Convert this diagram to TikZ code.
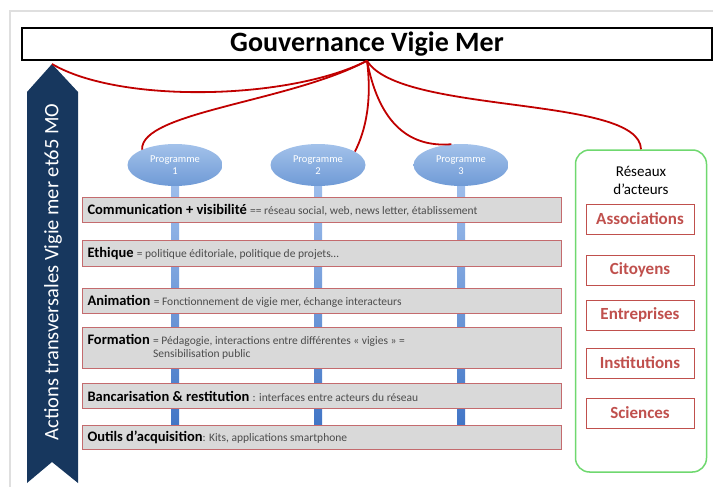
\documentclass[tikz,border=0pt]{standalone}
\usepackage{fontspec}
\setmainfont{Carlito}
\usetikzlibrary{shapes.geometric}
\definecolor{rougelien}{HTML}{C00000}
\definecolor{marine}{HTML}{17375E}
\definecolor{bleuhaut}{HTML}{A3C2EA}
\definecolor{bleubas}{HTML}{6F9AD6}
\definecolor{barrehaut}{HTML}{9DBDEB}
\definecolor{barrebas}{HTML}{3D72C4}
\definecolor{gris}{HTML}{D9D9D9}
\definecolor{bordrose}{HTML}{C46B6E}
\definecolor{vert}{HTML}{6FD86F}
\definecolor{rougeacteur}{HTML}{C0504D}
\newcommand{\desc}[1]{{\fontsize{11.5}{12.5}\selectfont\color{black!70}#1}}
\newcommand{\programme}[3] % name, x in px, number
{
	% ellipse
	\node[prog] (#1) at (#2,165) {Programme\\#3};
	% vertical bar under it
	\shade[top color=barrehaut, bottom color=barrebas] (#2-4,186) rectangle (#2+4,437);
}
\newcommand{\rangee}[4] % name, top y in px, height in px, text
{
	\node[rangee, minimum height=#3pt] (#1) at (82,#2) {#4};
}
\newcommand{\acteur}[3] % name, y in px, text
{
	\node[acteur] (#1) at (640,#2) {#3};
}
\begin{document}
\begin{tikzpicture}[x=1pt, y=-1pt,
	prog/.style={ellipse, top color=bleuhaut, bottom color=bleubas, minimum width=95pt, minimum height=42pt, inner sep=0pt, text=white, align=center, font=\fontsize{10.5}{11.5}\selectfont},
	rangee/.style={draw=bordrose, line width=1pt, fill=gris, anchor=north west, text width=469pt, inner xsep=5pt, align=flush left, font=\fontsize{14.5}{16}\selectfont},
	acteur/.style={draw=rougeacteur, line width=1pt, fill=white, minimum width=108pt, minimum height=30pt, inner xsep=2pt, text=rougeacteur, font=\bfseries\fontsize{17}{19}\selectfont},
	lien/.style={draw=rougelien, line width=1.8pt}]
	\useasboundingbox (0,0) rectangle (713,487);
	% slide frame
	\draw[gray!25, line width=2pt] (10,487) -- (10,11) -- (713,11);
	
	% title
	\node[draw, line width=1.5pt, fill=white, minimum width=690pt, minimum height=32pt, font=\bfseries\fontsize{28}{30}\selectfont] (gouv) at (367,44) {Gouvernance Vigie Mer};
	\coordinate (centre) at (gouv.south);
	
	% transversal arrow
	\fill[marine] (27,92) -- (52,64) -- (78,92) -- (78,483) -- (52,462) -- (27,483) -- cycle;
	\coordinate (pointe) at (52,64);
	\node[rotate=90, text=white, font=\fontsize{20.5}{22}\selectfont] (actions) at (53,272) {Actions transversales Vigie mer et65 MO};
	
	% programmes
	\programme{p1}{175}{1};
	\programme{p2}{318}{2};
	\programme{p3}{461}{3};
	
	% transversal actions
	\rangee{comm}{197}{25}{\textbf{Communication + visibilité} \desc{== réseau social, web, news letter, établissement}};
	\rangee{ethique}{240}{26}{\textbf{Ethique} \desc{= politique éditoriale, politique de projets…}};
	\rangee{anim}{288}{25}{\textbf{Animation} \desc{= Fonctionnement de vigie mer, échange interacteurs}};
	\rangee{form}{327}{41}{\textbf{Formation} \desc{\begin{tabular}[t]{@{}l@{}}= Pédagogie, interactions entre différentes « vigies » =\\ Sensibilisation public\end{tabular}}};
	\rangee{banc}{383}{25}{\textbf{Bancarisation \& restitution} \desc{: interfaces entre acteurs du réseau}};
	\rangee{outils}{425}{24}{\textbf{Outils d'acquisition}\desc{: Kits, applications smartphone}};
	
	% networks
	\node[draw=vert, line width=1.5pt, rounded corners=14pt, fill=white, minimum width=131pt, minimum height=322pt] (reseaux) at (641,311) {};
	\node[align=center, font=\fontsize{15}{18}\selectfont] (titrereseaux) at (641,180) {Réseaux\\d'acteurs};
	\acteur{assoc}{219}{Associations};
	\acteur{citoyens}{270}{Citoyens};
	\acteur{entreprises}{315}{Entreprises};
	\acteur{institutions}{363}{Institutions};
	\acteur{sciences}{413}{Sciences};
	
	% red links
	\draw[lien] (pointe) .. controls (120,104) and (290,100) .. (centre);
	\draw[lien] (p1.155) .. controls (140,112) and (290,102) .. (centre);
	\draw[lien] (centre) .. controls (372,100) and (366,130) .. (p2.20);
	\draw[lien] (centre) .. controls (378,118) and (405,148) .. (p3.115);
	\draw[lien] (centre) .. controls (400,115) and (640,95) .. (reseaux.north);
\end{tikzpicture}
\end{document}
